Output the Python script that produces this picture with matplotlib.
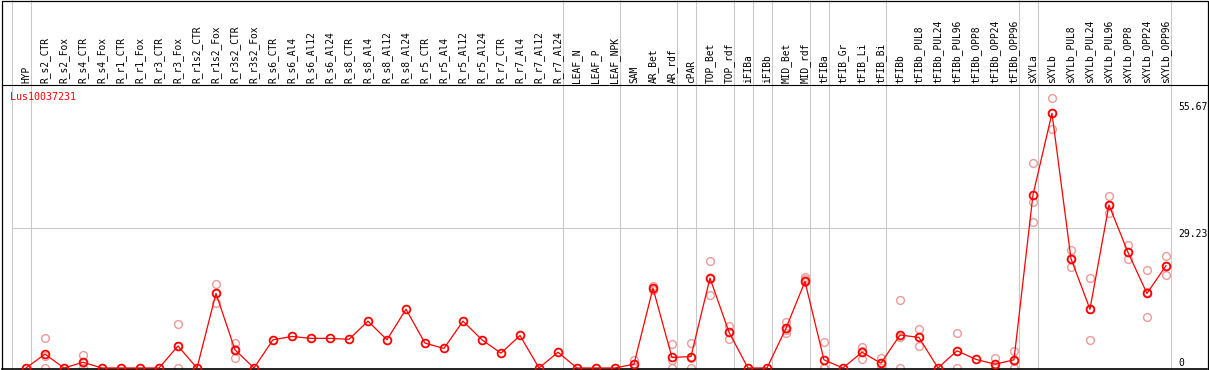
import numpy as np
import matplotlib.pyplot as plt
from matplotlib.patches import Rectangle
from matplotlib.transforms import blended_transform_factory

# sample names (one column each)
labels = ['HYP', 'R_s2_CTR', 'R_s2_Fox', 'R_s4_CTR', 'R_s4_Fox', 'R_r1_CTR', 'R_r1_Fox',
          'R_r3_CTR', 'R_r3_Fox', 'R_r1s2_CTR', 'R_r1s2_Fox', 'R_r3s2_CTR', 'R_r3s2_Fox',
          'R_s6_CTR', 'R_s6_Al4', 'R_s6_Al12', 'R_s6_Al24', 'R_s8_CTR', 'R_s8_Al4',
          'R_s8_Al12', 'R_s8_Al24', 'R_r5_CTR', 'R_r5_Al4', 'R_r5_Al12', 'R_r5_Al24',
          'R_r7_CTR', 'R_r7_Al4', 'R_r7_Al12', 'R_r7_Al24', 'LEAF_N', 'LEAF_P', 'LEAF_NPK',
          'SAM', 'AR_Bet', 'AR_rdf', 'cPAR', 'TOP_Bet', 'TOP_rdf', 'iFIBa', 'iFIBb',
          'MID_Bet', 'MID_rdf', 'tFIBa', 'tFIB_Gr', 'tFIB_Li', 'tFIB_Bi', 'tFIBb',
          'tFIBb_PUL8', 'tFIBb_PUL24', 'tFIBb_PUL96', 'tFIBb_OPP8', 'tFIBb_OPP24',
          'tFIBb_OPP96', 'sXYLa', 'sXYLb', 'sXYLb_PUL8', 'sXYLb_PUL24', 'sXYLb_PUL96',
          'sXYLb_OPP8', 'sXYLb_OPP24', 'sXYLb_OPP96']

# mean expression per sample
means = [0, 2.9, 0, 1.2, 0, 0, 0, 0, 4.6, 0,
         15.6, 3.8, 0, 5.9, 6.6, 6.2, 6.2, 6.0, 9.8, 5.9,
         12.3, 5.2, 4.1, 9.8, 5.9, 3.1, 6.8, 0, 3.3, 0,
         0, 0, 0.8, 16.7, 2.2, 2.4, 18.8, 7.5, 0, 0,
         8.3, 18.1, 1.7, 0, 3.3, 1.0, 6.9, 6.4, 0, 3.6,
         1.8, 0.8, 1.7, 36.2, 53.3, 22.9, 12.3, 34.1, 24.2, 15.6, 21.4]

# replicate values (only where visible)
replicates = {
    1: [6.2, 0, 2.5], 3: [2.7, 0, 1.0], 8: [9.3, 0, 4.5], 10: [17.6, 13.7, 15.6],
    11: [5.3, 2.0, 4.0], 32: [1.7, 0, 0.8], 33: [17.2, 16.5, 16.3], 34: [5.0, 0, 1.7],
    35: [5.2, 0, 2.0], 36: [22.4, 15.3, 18.7], 37: [8.8, 6.1, 7.5], 40: [9.6, 7.3, 8.0],
    41: [19.0, 18.6, 18.0], 42: [5.4, 0, 0], 44: [4.4, 1.8, 3.6], 45: [2.0, 0, 1.0],
    46: [14.2, 0, 6.5], 47: [8.2, 4.6, 6.4], 49: [7.3, 0, 3.5], 51: [2.0, 0, 0.5],
    52: [3.6, 0, 1.5], 53: [42.8, 34.7, 30.5], 54: [56.4, 50.1, 53.4],
    55: [24.7, 21.1, 23.0], 56: [18.8, 5.8, 12.3], 57: [36.0, 32.4, 34.0],
    58: [25.7, 22.7, 24.2], 59: [20.4, 10.6, 15.8], 60: [23.4, 19.4, 21.4],
}

# group separators drawn after these columns
group_ends = [-1, 0, 28, 31, 34, 35, 37, 38, 39, 41, 42, 45, 52, 53, 60]

y_ticks = [0, 29.23, 55.67]
gene = 'Lus10037231'

W, H = 1209, 370
fig = plt.figure(figsize=(W / 100, H / 100), dpi=100)
ax = fig.add_axes([2 / W, 1 / H, 1205 / W, 284 / H])

x = np.arange(len(labels))
ax.set_xlim(-1.263, 62.16)
ax.set_ylim(-0.21, 59.2)

mono = 'DejaVu Sans Mono'
top = blended_transform_factory(ax.transData, ax.transAxes)

# separators (go through the label area too)
for g in group_ends:
    ax.axvline(g + 0.25, ymin=-0.01, ymax=1.3, color='#c8c8c8', lw=0.75,
               clip_on=False, zorder=0)
ax.plot([-0.75, 60.25], [29.23, 29.23], color='#c8c8c8', lw=0.75, zorder=0)

# replicates
for i, vals in replicates.items():
    ax.plot([i] * len(vals), vals, ls='none', marker='o', ms=5.6, mfc='none',
            mec='#ec9a9a', mew=1.0, clip_on=False, zorder=2)

# means
ax.plot(x, means, color='red', lw=0.9, marker='o', ms=5.6, mfc='none',
        mec='red', mew=1.3, clip_on=False, zorder=3)

# column labels
for i, lab in enumerate(labels):
    ax.text(i, 1.006, lab, rotation=90, ha='center', va='bottom', transform=top,
            family=mono, fontsize=6.9, clip_on=False)

# y labels on the right
for v in y_ticks:
    if v == 0:
        ax.text(60.63, v - 0.1, '0', ha='left', va='bottom', family=mono, fontsize=7)
    else:
        ax.text(60.63, v - 0.1, f'{v:.2f}', ha='left', va='top', family=mono, fontsize=7)

ax.text(-0.84, 56.7, gene, color='red', ha='left', va='center', family=mono, fontsize=7.2)

ax.set_xticks([])
ax.set_yticks([])
for s in ['left', 'right']:
    ax.spines[s].set_visible(False)
ax.spines['top'].set_linewidth(0.8)
ax.spines['bottom'].set_linewidth(1.2)

fig.add_artist(Rectangle((2 / W, 0.5 / H), 1205.5 / W, 369 / H, transform=fig.transFigure,
                         fill=False, ec='black', lw=0.9))

fig.savefig('out.png', dpi=100)
